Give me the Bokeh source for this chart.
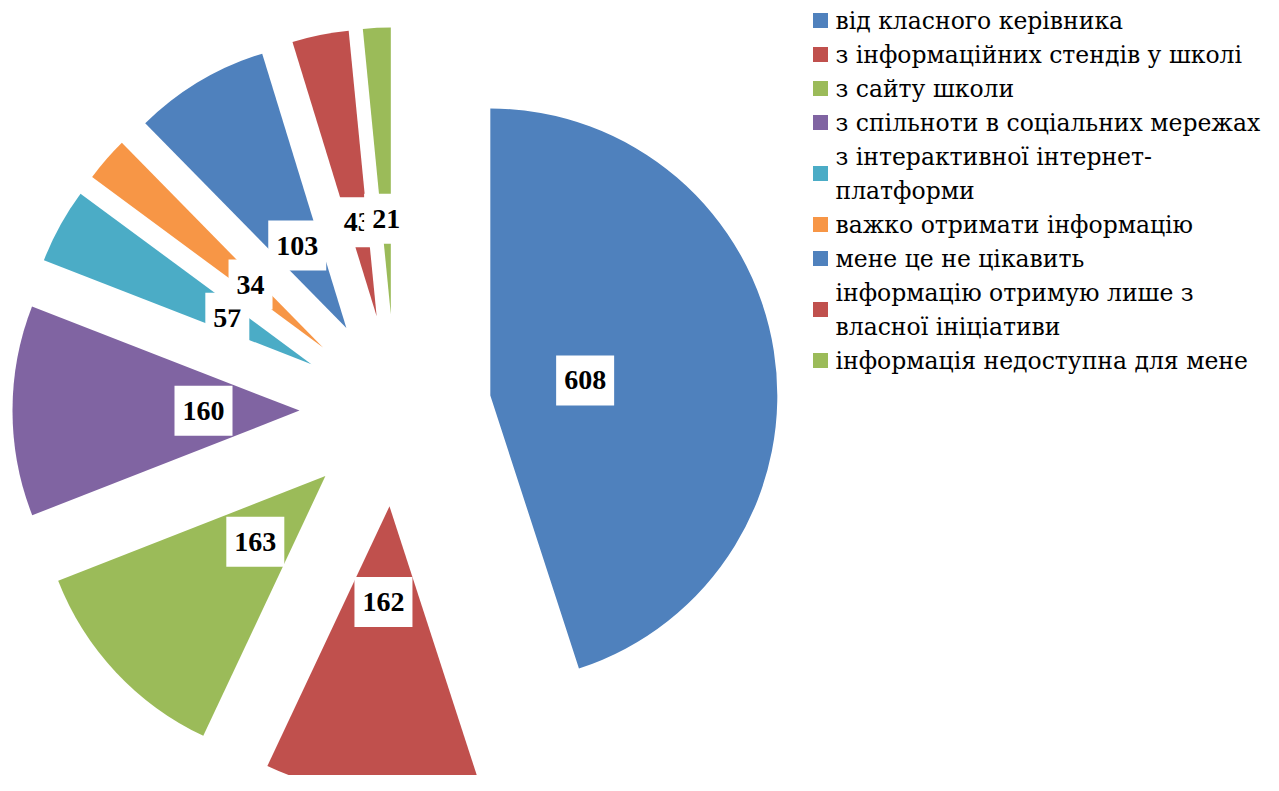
import numpy as np
from bokeh.plotting import figure
from bokeh.models import ColumnDataSource, Range1d
from bokeh.core.properties import value
from bokeh.embed import file_html
from bokeh.resources import INLINE

categories = [
    "від класного керівника",
    "з інформаційних стендів у школі",
    "з сайту школи",
    "з спільноти в соціальних мережах",
    "з інтерактивної інтернет-\nплатформи",
    "важко отримати інформацію",
    "мене це не цікавить",
    "інформацію отримую лише з\nвласної ініціативи",
    "інформація недоступна для мене",
]
values = [608, 162, 163, 160, 57, 34, 103, 43, 21]
colors = ["#4F81BD", "#C0504D", "#9BBB59", "#8064A2", "#4BACC6",
          "#F79646", "#4F81BD", "#C0504D", "#9BBB59"]

W, H = 1263, 775
def py(y):  # screen pixel y -> data y
    return H - y

p = figure(width=W, height=H, x_range=Range1d(0, W), y_range=Range1d(0, H),
           output_backend="svg", toolbar_location=None, min_border=0,
           x_axis_location=None, y_axis_location=None)
p.grid.visible = False
p.outline_line_color = None
p.background_fill_color = "white"

# pie geometry
cx, cy = 395, py(410)
R = 287
explode = 96
label_r = 192

vals = np.array(values, dtype=float)
frac = vals / vals.sum()
cum = np.concatenate([[0], np.cumsum(frac)])
start = np.pi / 2 - 2 * np.pi * cum[:-1]
end = np.pi / 2 - 2 * np.pi * cum[1:]
mid = (start + end) / 2

src = ColumnDataSource(dict(
    x=cx + explode * np.cos(mid), y=cy + explode * np.sin(mid),
    start=start, end=end, color=colors,
    lx=cx + label_r * np.cos(mid), ly=cy + label_r * np.sin(mid),
    txt=[str(v) for v in values],
))
p.wedge(x="x", y="y", radius=R, start_angle="start", end_angle="end",
        direction="clock", fill_color="color", line_color=None, source=src)

p.text(x="lx", y="ly", text="txt", source=src,
       text_font=value("Liberation Serif"), text_font_style="bold",
       text_font_size=value("28px"), text_color="black",
       text_align="center", text_baseline="middle",
       background_fill_color="white", padding=[8, 16])

# legend (manual)
line_pitch = 34
top_line = 20
lx, ly, lt = [], [], []
sq_y = []
k = 0
for cat in categories:
    parts = cat.split("\n")
    ys = []
    for part in parts:
        yy = py(top_line + line_pitch * k)
        lx.append(835); ly.append(yy); lt.append(part)
        ys.append(yy)
        k += 1
    sq_y.append(sum(ys) / len(ys))

p.rect(x=[820] * len(categories), y=sq_y, width=15, height=15,
       fill_color=colors, line_color=None)
p.text(x=lx, y=ly, text=lt, text_font=value("DejaVu Serif"),
       text_font_size=value("23.5px"), text_color="black",
       text_align="left", text_baseline="middle")

open("out.html", "w").write(file_html(p, INLINE))
